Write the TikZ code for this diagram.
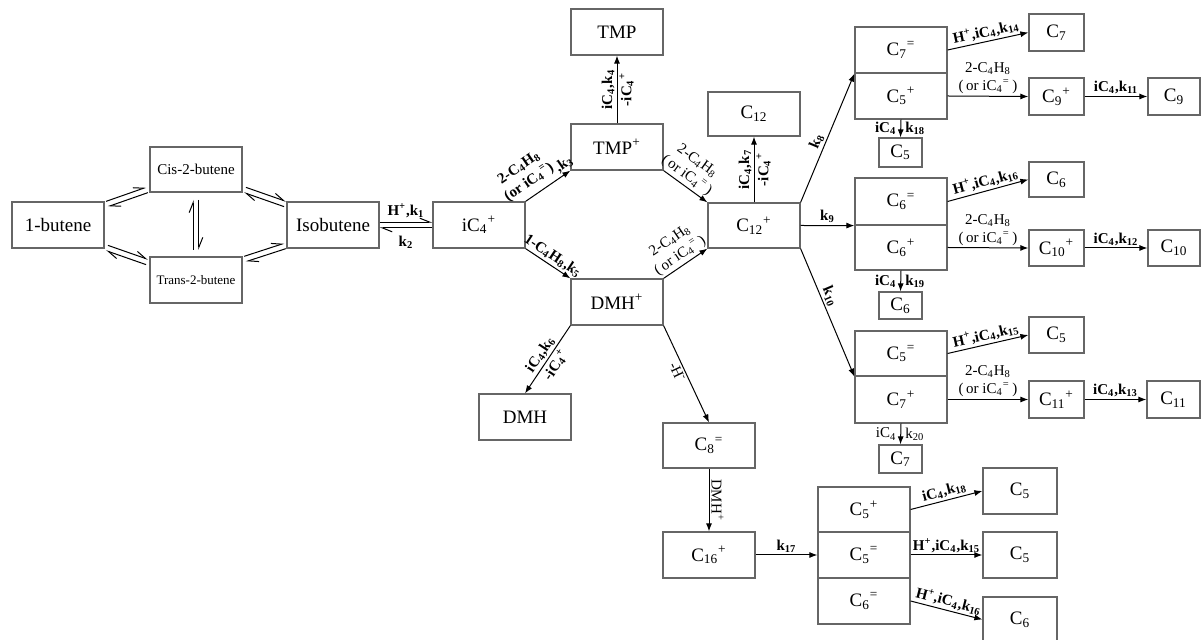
\documentclass[tikz,border=0pt]{standalone}
\usepackage{fontspec}
\setmainfont{Liberation Serif}
\usetikzlibrary{arrows.meta,calc}
\newcommand\mysb[1]{\textsubscript{#1}}
\newcommand\mysp[1]{\textsuperscript{#1}}
\newcommand\bx[6]{\node[box, minimum width={(#4-#2)*0.5pt}, minimum height={(#5-#3)*0.5pt}] (#1) at ({(#2+#4)/2},{(#3+#5)/2}) {#6};}
\newcommand\eqpair[2]{%
  \draw[harp] ($(#1)!1.4pt!90:(#2)$) -- ($(#2)!1.4pt!-90:(#1)$);
  \draw[harp] ($(#2)!1.4pt!90:(#1)$) -- ($(#1)!1.4pt!-90:(#2)$);}
\tikzset{
  box/.style={draw=black!60, line width=0.6pt, inner sep=0pt, font=\fontsize{9.5}{11}\selectfont},
  arr/.style={-{Latex[length=4pt,width=3pt]}, line width=0.5pt},
  harp/.style={-{Straight Barb[left,length=5pt,width=4pt]}, line width=0.5pt},
  lbl/.style={font=\fontsize{7.5}{9}\selectfont\bfseries, inner sep=1pt},
  lblr/.style={font=\fontsize{7.5}{9}\selectfont, inner sep=1pt}
}
\begin{document}
\begin{tikzpicture}[x=0.5pt,y=-0.5pt]
\useasboundingbox (0,0) rectangle (1201,640);
% boxes
\bx{but1}{12}{202}{104}{248}{1-butene}
\bx{cis}{150}{147}{242}{192}{\fontsize{7.5}{9}\selectfont Cis-2-butene}
\bx{trans}{150}{257}{242}{303}{\fontsize{6.5}{8}\selectfont Trans-2-butene}
\bx{isob}{287}{202}{379}{248}{Isobutene}
\bx{ic4}{433}{202}{525}{248}{iC\mysb4\mysp{+}}
\bx{tmp}{571}{9}{663}{55}{TMP}
\bx{tmpp}{571}{124}{663}{170}{TMP\mysp{+}}
\bx{c12}{708}{92}{800}{136}{C\mysb{12}}
\bx{c12p}{708}{203}{800}{248}{C\mysb{12}\mysp{+}}
\bx{dmhp}{571}{279}{663}{325}{DMH\mysp{+}}
\bx{dmh}{479}{394}{571}{440}{DMH}
\bx{c8}{663}{423}{755}{468}{C\mysb8\mysp{=}}
\bx{c16}{663}{532}{755}{578}{C\mysb{16}\mysp{+}}
\bx{s1a}{855}{27}{947}{73}{C\mysb7\mysp{=}}
\bx{s1b}{855}{73}{947}{119}{C\mysb5\mysp{+}}
\bx{s1c}{879}{138}{922}{167}{C\mysb5}
\bx{r1a}{1029}{14}{1084}{51}{C\mysb7}
\bx{r1b}{1029}{78}{1084}{115}{C\mysb9\mysp{+}}
\bx{r1c}{1148}{78}{1200}{115}{C\mysb9}
\bx{s2a}{855}{178}{947}{225}{C\mysb6\mysp{=}}
\bx{s2b}{855}{225}{947}{270}{C\mysb6\mysp{+}}
\bx{s2c}{879}{292}{922}{319}{C\mysb6}
\bx{r2a}{1029}{162}{1084}{197}{C\mysb6}
\bx{r2b}{1029}{230}{1084}{266}{C\mysb{10}\mysp{+}}
\bx{r2c}{1148}{230}{1200}{266}{C\mysb{10}}
\bx{s3a}{855}{331}{947}{376}{C\mysb5\mysp{=}}
\bx{s3b}{855}{376}{947}{423}{C\mysb7\mysp{+}}
\bx{s3c}{879}{445}{922}{473}{C\mysb7}
\bx{r3a}{1029}{317}{1084}{353}{C\mysb5}
\bx{r3b}{1029}{381}{1084}{418}{C\mysb{11}\mysp{+}}
\bx{r3c}{1147}{381}{1200}{418}{C\mysb{11}}
\bx{bs1}{818}{487}{910}{532}{C\mysb5\mysp{+}}
\bx{bs2}{818}{532}{910}{578}{C\mysb5\mysp{=}}
\bx{bs3}{818}{578}{910}{624}{C\mysb6\mysp{=}}
\bx{br1}{983}{468}{1057}{514}{C\mysb5}
\bx{br2}{983}{532}{1057}{578}{C\mysb5}
\bx{br3}{983}{597}{1057}{642}{C\mysb6}
% equilibrium coordinates
\coordinate (qa1) at (107,204); \coordinate (qa2) at (147,190);
\coordinate (qb1) at (245,190); \coordinate (qb2) at (285,204);
\coordinate (qc1) at (107,248); \coordinate (qc2) at (147,262);
\coordinate (qd1) at (245,259); \coordinate (qd2) at (285,246);
\coordinate (qe1) at (196,250); \coordinate (qe2) at (196,200);
\eqpair{qa1}{qa2}
\eqpair{qb1}{qb2}
\eqpair{qc1}{qc2}
\eqpair{qd1}{qd2}
\eqpair{qe1}{qe2}
\eqpair{isob.east}{ic4.west}
\node[lbl] (k1) at (406,211) {H\mysp{+},k\mysb1};
\node[lbl] (k2) at (406,242) {k\mysb2};
% main network
\draw[arr] (ic4.north east) -- (tmpp.south west)
  node[lbl,sloped,above=2pt,pos=0.25,align=center]{2-C\mysb4H\mysb8\\(or iC\mysb4\mysp{=})}
  node[lbl,sloped,above,pos=0.97]{,k\mysb3};
\draw[arr] (ic4.south east) -- (dmhp.north west)
  node[lbl,sloped,above,pos=0.5]{1-C\mysb4H\mysb8,k\mysb5};
\draw[arr] (tmpp.south east) -- (c12p.north west)
  node[lblr,sloped,above,pos=0.4,align=center]{2-C\mysb4H\mysb8\\(\,or iC\mysb4\mysp{=}\,)};
\draw[arr] (dmhp.north east) -- (c12p.south west)
  node[lblr,sloped,above,pos=0.5,align=center]{2-C\mysb4H\mysb8\\(\,or iC\mysb4\mysp{=}\,)};
\draw[arr] (tmpp.north) -- (tmp.south)
  node[lbl,sloped,above,midway]{iC\mysb4,k\mysb4}
  node[lbl,sloped,below,midway]{-iC\mysb4\mysp{+}};
\draw[arr] (c12p.north) -- (c12.south)
  node[lbl,sloped,above,midway]{iC\mysb4,k\mysb7}
  node[lbl,sloped,below,midway]{-iC\mysb4\mysp{+}};
\draw[arr] (c12p.north east) -- (s1a.south west)
  node[lbl,sloped,above,pos=0.45]{k\mysb8};
\draw[arr] (c12p.east) -- (s2a.south west)
  node[lbl,above,midway]{k\mysb9};
\draw[arr] (c12p.south east) -- (s3a.south west)
  node[lbl,sloped,above,pos=0.4]{k\mysb{10}};
\draw[arr] (dmhp.south west) -- (dmh.north)
  node[lbl,sloped,above,midway]{iC\mysb4,k\mysb6}
  node[lbl,sloped,below,midway]{-iC\mysb4\mysp{+}};
\draw[arr] (dmhp.south east) -- (c8.north)
  node[lblr,sloped,below,pos=0.45]{-H\mysp{-}};
\draw[arr] (c8.south) -- (c16.north)
  node[lblr,sloped,above,midway]{DMH\mysp{+}};
\draw[arr] (c16.east) -- (bs2.west)
  node[lbl,above,midway]{k\mysb{17}};
\draw[arr] (bs1.east) -- (br1.west)
  node[lbl,sloped,above,midway]{iC\mysb4,k\mysb{18}};
\draw[arr] (bs2.east) -- (br2.west)
  node[lbl,above,midway]{H\mysp{+},iC\mysb4,k\mysb{15}};
\draw[arr] (bs3.east) -- (br3.west)
  node[lbl,sloped,above,midway]{H\mysp{+},iC\mysb4,k\mysb{16}};
% right stacks
\draw[arr] (s1a.east) -- (r1a.west)
  node[lbl,sloped,above,midway]{H\mysp{+},iC\mysb4,k\mysb{14}};
\draw[arr] (s1b.east) -- (r1b.west)
  node[lblr,above,midway,align=center]{2-C\mysb4H\mysb8\\(\,or iC\mysb4\mysp{=}\,)};
\draw[arr] (r1b.east) -- (r1c.west)
  node[lbl,above,midway]{iC\mysb4,k\mysb{11}};
\draw[arr] (s1b.south) -- (s1c.north)
  node[lbl,left=1pt,midway]{iC\mysb4}
  node[lbl,right=1pt,midway]{k\mysb{18}};
\draw[arr] (s2a.east) -- (r2a.west)
  node[lbl,sloped,above,midway]{H\mysp{+},iC\mysb4,k\mysb{16}};
\draw[arr] (s2b.east) -- (r2b.west)
  node[lblr,above,midway,align=center]{2-C\mysb4H\mysb8\\(\,or iC\mysb4\mysp{=}\,)};
\draw[arr] (r2b.east) -- (r2c.west)
  node[lbl,above,midway]{iC\mysb4,k\mysb{12}};
\draw[arr] (s2b.south) -- (s2c.north)
  node[lbl,left=1pt,midway]{iC\mysb4}
  node[lbl,right=1pt,midway]{k\mysb{19}};
\draw[arr] (s3a.east) -- (r3a.west)
  node[lbl,sloped,above,midway]{H\mysp{+},iC\mysb4,k\mysb{15}};
\draw[arr] (s3b.east) -- (r3b.west)
  node[lblr,above,midway,align=center]{2-C\mysb4H\mysb8\\(\,or iC\mysb4\mysp{=}\,)};
\draw[arr] (r3b.east) -- (r3c.west)
  node[lbl,above,midway]{iC\mysb4,k\mysb{13}};
\draw[arr] (s3b.south) -- (s3c.north)
  node[lblr,left=1pt,midway]{iC\mysb4}
  node[lblr,right=1pt,midway]{k\mysb{20}};
\end{tikzpicture}
\end{document}
